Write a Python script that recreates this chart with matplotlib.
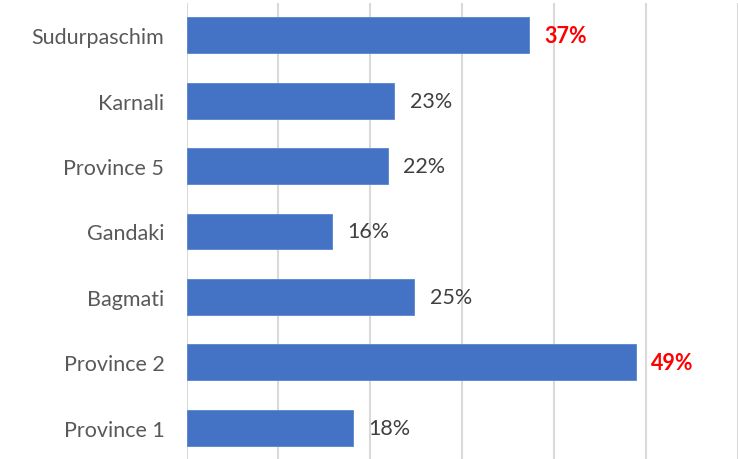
import numpy as np
import matplotlib
matplotlib.use("Agg")
from matplotlib import pyplot as plt

# data, bottom to top as drawn
provinces = ['Province 1', 'Province 2', 'Bagmati', 'Gandaki', 'Province 5', 'Karnali', 'Sudurpaschim']
shares = [0.181, 0.489, 0.248, 0.158, 0.219, 0.226, 0.373]
highlight = ['Province 2', 'Sudurpaschim']

plt.rcParams['font.family'] = ['Lato', 'DejaVu Sans']

fig = plt.figure(figsize=(7.38, 4.60), dpi=100)
ax = fig.add_axes([186.5 / 738, -1.5 / 460, (737.7 - 186.5) / 738, 458 / 460])

y = np.arange(len(provinces))
ax.barh(y, shares, height=0.55, color='#4472C4', edgecolor='#5a84cf', linewidth=0.6, zorder=3)

for i, (name, v) in enumerate(zip(provinces, shares)):
    label = '%d%%' % round(v * 100)
    if name in highlight:
        ax.text(v + 0.017, i, label, va='center', ha='left', fontsize=15.5,
                color='#ff0000', fontweight='bold')
    else:
        ax.text(v + 0.017, i, label, va='center', ha='left', fontsize=15.5,
                color='#404040')

ax.set_xlim(0, 0.6)
ax.set_ylim(-0.5, len(provinces) - 0.5)
ax.set_xticks(np.arange(0, 0.61, 0.1))
ax.set_xticklabels([])
ax.set_yticks(y)
ax.set_yticklabels(provinces, fontsize=15.5, color='#595959')
ax.tick_params(axis='both', length=0)
ax.tick_params(axis='y', pad=16)
ax.grid(axis='x', color='#d9d9d9', linewidth=1.5, zorder=0)
ax.set_axisbelow(True)
for s in ax.spines.values():
    s.set_visible(False)

fig.savefig('out.png', dpi=100)
